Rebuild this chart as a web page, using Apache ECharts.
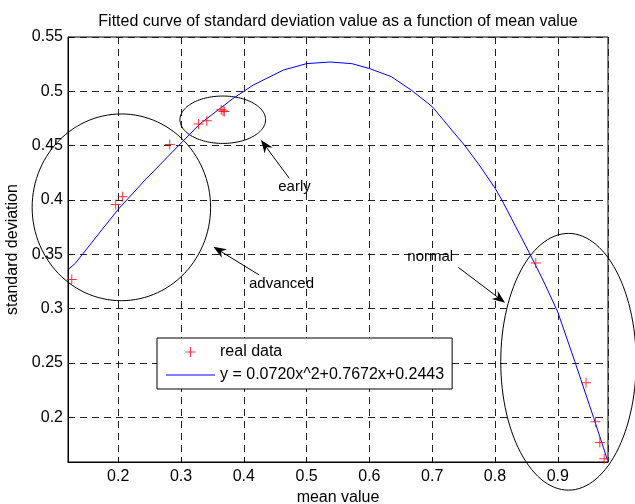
<!DOCTYPE html>
<html>
<head>
<meta charset="utf-8">
<script src="https://cdn.jsdelivr.net/npm/echarts@6/dist/echarts.min.js"></script>
<style>html,body{margin:0;padding:0;background:#fff}#chart{width:635px;height:504px}</style>
</head>
<body>
<div id="chart"></div>
<script>
// ---- data ----
var realX = [0.126, 0.196, 0.207, 0.282, 0.328, 0.341, 0.364, 0.367, 0.369, 0.865, 0.945, 0.960, 0.967, 0.974];
var realY = [0.327, 0.396, 0.403, 0.451, 0.470, 0.473, 0.483, 0.482, 0.4815, 0.342, 0.232, 0.196, 0.177, 0.162];

var fitX = [0.120, 0.1316, 0.171, 0.200, 0.2427, 0.296, 0.330, 0.383, 0.400, 0.415, 0.463, 0.500, 0.537, 0.572, 0.600, 0.635, 0.667, 0.700, 0.752, 0.774, 0.800, 0.811, 0.856, 0.878, 0.900, 0.928, 0.957, 0.979];
var fitY = [0.336, 0.3417, 0.3705, 0.3915, 0.4184, 0.450, 0.470, 0.4935, 0.500, 0.5058, 0.5196, 0.5255, 0.527, 0.5255, 0.521, 0.5135, 0.501, 0.486, 0.450, 0.433, 0.411, 0.400, 0.350, 0.3245, 0.297, 0.250, 0.200, 0.161];

var xTickLabels = ['0.2', '0.3', '0.4', '0.5', '0.6', '0.7', '0.8', '0.9'];
var yTickLabels = ['0.2', '0.25', '0.3', '0.35', '0.4', '0.45', '0.5', '0.55'];

// annotations in data units
var ellipseCX = [0.205, 0.3665, 0.917];
var ellipseCY = [0.3933, 0.4739, 0.2512];
var ellipseRX = [0.1421, 0.0682, 0.1078];
var ellipseRY = [0.0859, 0.0218, 0.1181];

var arrowFromX = [0.4724, 0.4246, 0.7417];
var arrowFromY = [0.420, 0.331, 0.338];
var arrowToX = [0.4273, 0.3514, 0.8161];
var arrowToY = [0.4552, 0.357, 0.3055];

var noteText = ['early', 'advanced', 'normal'];
var noteX = [0.4807, 0.4600, 0.6969];
var noteY = [0.412, 0.3227, 0.3475];

var titleText = 'Fitted curve of standard deviation value as a function of mean value';
var fitName = 'y = 0.0720x^2+0.7672x+0.2443';
var realName = 'real data';

// ---- build ----
var FONT = 'Liberation Sans, Arial, Helvetica, sans-serif';
var PLUS = 'path://M4.5,0h1v4.5h4.5v1h-4.5v4.5h-1v-4.5h-4.5v-1h4.5z';
var LINEICON = 'path://M0,0h49v1h-49z';

var realData = realX.map(function (x, i) { return [x, realY[i]]; });
var fitData = fitX.map(function (x, i) { return [x, fitY[i]]; });
var annData = [];
ellipseCX.forEach(function (c, i) { annData.push(['e', i]); });
arrowFromX.forEach(function (c, i) { annData.push(['a', i]); });
noteText.forEach(function (c, i) { annData.push(['t', i]); });

function renderAnn(params, api) {
  var kind = annData[params.dataIndex][0];
  var i = annData[params.dataIndex][1];
  if (kind === 'e') {
    var c = api.coord([ellipseCX[i], ellipseCY[i]]);
    var s = api.size([ellipseRX[i], ellipseRY[i]]);
    var pts = [];
    for (var k = 0; k <= 120; k++) {
      var t = k / 120 * Math.PI * 2;
      pts.push([c[0] + s[0] * Math.cos(t), c[1] + s[1] * Math.sin(t)]);
    }
    return { type: 'polyline', shape: { points: pts }, style: { stroke: '#000', lineWidth: 1, fill: null } };
  }
  if (kind === 'a') {
    var p1 = api.coord([arrowFromX[i], arrowFromY[i]]);
    var p2 = api.coord([arrowToX[i], arrowToY[i]]);
    var dx = p2[0] - p1[0], dy = p2[1] - p1[1];
    var L = Math.sqrt(dx * dx + dy * dy);
    var ux = dx / L, uy = dy / L, nx = -uy, ny = ux;
    var hl = 13, hw = 5, notch = 9;
    var base = [p2[0] - ux * hl, p2[1] - uy * hl];
    var nb = [p2[0] - ux * notch, p2[1] - uy * notch];
    return {
      type: 'group',
      children: [
        { type: 'line', shape: { x1: p1[0], y1: p1[1], x2: nb[0], y2: nb[1] }, style: { stroke: '#000', lineWidth: 1 } },
        { type: 'polygon', shape: { points: [p2, [base[0] + nx * hw, base[1] + ny * hw], nb, [base[0] - nx * hw, base[1] - ny * hw]] }, style: { fill: '#000' } }
      ]
    };
  }
  var p = api.coord([noteX[i], noteY[i]]);
  return { type: 'text', x: p[0], y: p[1], style: { text: noteText[i], fill: '#000', font: '15px ' + FONT, align: 'center', verticalAlign: 'middle' } };
}

var axisCommon = {
  axisLine: { show: true, onZero: false, lineStyle: { color: '#000', width: 1 } },
  axisTick: { show: true, inside: true, length: 5, lineStyle: { color: '#000' } },
  splitLine: { show: true, lineStyle: { color: '#222', width: 1, type: [7, 5] } }
};

function pickLabel(list) {
  return function (v) {
    var s = list.filter(function (t) { return Math.abs(parseFloat(t) - v) < 1e-6; });
    return s.length ? s[0] : '';
  };
}

var chart = echarts.init(document.getElementById('chart'), null, { renderer: 'canvas' });
chart.setOption({
  animation: false,
  backgroundColor: '#fff',
  title: {
    text: titleText, left: 333, top: 9, textAlign: 'center',
    textStyle: { fontFamily: FONT, fontSize: 16, fontWeight: 'normal', color: '#000' }
  },
  grid: {
    left: 68, right: 27, top: 37, bottom: 42, show: true, borderColor: '#000', borderWidth: 1,
    containLabel: false, outerBoundsMode: 'none'
  },
  legend: {
    orient: 'vertical', left: 157, top: 338,
    padding: [5, 8, 5, 9],
    itemWidth: 49, itemHeight: 10, itemGap: 5,
    backgroundColor: '#fff', borderColor: '#000', borderWidth: 1,
    textStyle: { fontFamily: FONT, fontSize: 16, color: '#000', lineHeight: 18 },
    data: [
      { name: realName, icon: PLUS, itemStyle: { color: '#f00' } },
      { name: fitName, icon: LINEICON, itemStyle: { color: '#00f' } }
    ]
  },
  xAxis: [Object.assign({}, axisCommon, {
    type: 'value', min: 0.12, max: 0.98, minInterval: 0.1, maxInterval: 0.1,
    name: 'mean value', nameLocation: 'middle', nameGap: 28,
    nameTextStyle: { fontFamily: FONT, fontSize: 16, color: '#000' },
    axisLabel: {
      showMinLabel: false, showMaxLabel: false, margin: 7,
      fontFamily: FONT, fontSize: 16, color: '#000',
      formatter: pickLabel(xTickLabels)
    }
  })],
  yAxis: [Object.assign({}, axisCommon, {
    type: 'value', min: 0.159, max: 0.55, minInterval: 0.05, maxInterval: 0.05,
    name: 'standard deviation', nameLocation: 'middle', nameGap: 43,
    nameTextStyle: { fontFamily: FONT, fontSize: 16, color: '#000' },
    axisLabel: {
      showMinLabel: false, margin: 5,
      fontFamily: FONT, fontSize: 16, color: '#000',
      formatter: pickLabel(yTickLabels)
    }
  })],
  series: [
    {
      name: fitName, type: 'line', data: fitData, symbol: 'none', showSymbol: false,
      lineStyle: { color: '#00f', width: 1 }, itemStyle: { color: '#00f' }, z: 3
    },
    {
      name: realName, type: 'scatter', data: realData, symbol: PLUS, symbolSize: 10,
      itemStyle: { color: '#f00' }, z: 4
    },
    {
      type: 'custom', name: 'notes', data: annData, renderItem: renderAnn, clip: false, silent: true, z: 2
    }
  ]
});
</script>
</body>
</html>
